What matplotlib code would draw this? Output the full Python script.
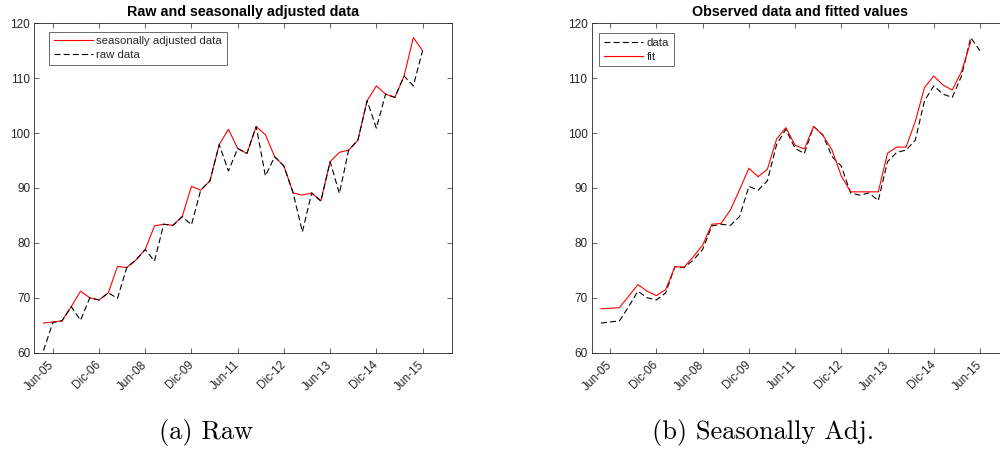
import matplotlib
matplotlib.use("Agg")
import matplotlib.pyplot as plt
import matplotlib.transforms as mtransforms
import numpy as np

# ---- data (quarterly index, Jun-05 .. ) ----
raw_data = [60.4, 65.5, 65.8, 68.4, 65.9, 70.0, 69.6, 70.9, 69.9, 75.5,
            76.9, 78.8, 76.7, 83.4, 83.2, 84.8, 83.3, 89.6, 91.3, 97.9,
            93.1, 97.2, 96.3, 101.2, 92.2, 95.7, 94.0, 89.1, 82.0, 89.1,
            87.6, 94.8, 89.0, 96.9, 98.7, 105.9, 100.9, 107.1, 106.5, 110.4,
            108.6, 115.0]
sa_data = [65.4, 65.6, 65.8, 68.4, 71.2, 70.0, 69.6, 70.9, 75.7, 75.5,
           76.9, 78.8, 83.1, 83.4, 83.2, 84.8, 90.3, 89.6, 91.3, 97.9,
           100.7, 97.2, 96.3, 101.2, 99.7, 95.7, 94.0, 89.1, 88.7, 89.1,
           87.7, 94.8, 96.5, 96.9, 98.7, 105.9, 108.6, 107.1, 106.5, 110.4,
           117.4, 115.0]
fit_values = [68.0, 68.1, 68.2, 70.3, 72.4, 71.2, 70.4, 71.5, 75.65, 75.6,
              77.5, 79.6, 83.4, 83.55, 86.0, 89.7, 93.6, 92.05, 93.4, 98.9,
              101.0, 97.8, 97.1, 101.2, 99.65, 96.9, 92.2, 89.3, 89.3, 89.3,
              89.3, 96.35, 97.45, 97.45, 102.1, 108.3, 110.4, 108.75, 107.85, 111.2,
              116.65]
tick_labels = ["Jun-05", "Dic-06", "Jun-08", "Dic-09", "Jun-11",
               "Dic-12", "Jun-13", "Dic-14", "Jun-15"]
tick_index = [1, 6, 11, 16, 21, 26, 31, 36, 41]
y_ticks = [60, 70, 80, 90, 100, 110, 120]

plt.rcParams['font.family'] = ['Liberation Sans', 'DejaVu Sans']
plt.rcParams['lines.scale_dashes'] = False

W, H = 1000, 450
fig = plt.figure(figsize=(W / 100, H / 100), dpi=100)

axcol = '#262626'

def px_rect(x0, y0, x1, y1):
    return [x0 / W, 1 - y1 / H, (x1 - x0) / W, (y1 - y0) / H]

axL = fig.add_axes(px_rect(34.3, 23.3, 451.7, 352.7))
axR = fig.add_axes(px_rect(591.7, 23.3, 1009.1, 352.7))

xs = np.arange(len(sa_data))
xf = np.arange(len(fit_values))

dash = (4.3, 2.3)
axL.plot(xs, sa_data, color='red', lw=0.8, label='seasonally adjusted data')
axL.plot(xs, raw_data, color='black', lw=0.8, dashes=dash, label='raw data')

axR.plot(xs, sa_data, color='black', lw=0.8, dashes=dash, label='data')
axR.plot(xf, fit_values, color='red', lw=0.8, label='fit')

offset = mtransforms.ScaledTranslation(0.11, 0.02, fig.dpi_scale_trans)
for ax, title, leg_xy in [(axL, 'Raw and seasonally adjusted data', (49, 31.7)),
                          (axR, 'Observed data and fitted values', (599, 33.3))]:
    ax.set_xlim(-1, 44.15)
    ax.set_ylim(60, 120)
    ax.set_yticks(y_ticks)
    ax.set_xticks(tick_index)
    ax.set_xticklabels(tick_labels, rotation=45, ha='right', va='center',
                       rotation_mode='anchor')
    for lab in ax.get_xticklabels():
        lab.set_transform(lab.get_transform() + offset)
    ax.tick_params(direction='in', length=3.6, width=0.5, colors=axcol,
                   labelsize=8.5, top=True, right=True)
    ax.tick_params(axis='x', pad=7.5)
    ax.tick_params(axis='y', pad=3)
    for sp in ax.spines.values():
        sp.set_color(axcol)
        sp.set_linewidth(0.6)
    ax.set_title(title, fontsize=10.3, fontweight='bold', pad=5, color='black')
    leg = ax.legend(loc='upper left',
                    bbox_to_anchor=(leg_xy[0] / W, 1 - leg_xy[1] / H),
                    bbox_transform=fig.transFigure,
                    fontsize=8.2, frameon=True, fancybox=False, borderaxespad=0,
                    handlelength=3.4, handletextpad=0.35, labelspacing=0.3,
                    borderpad=0.42)
    fr = leg.get_frame()
    fr.set_edgecolor(axcol)
    fr.set_linewidth(0.6)
    for t in leg.get_texts():
        t.set_color(axcol)

fig.text(206 / W, 1 - 433 / H, '(a) Raw', fontfamily='cmr10', fontsize=19,
         ha='center', va='center')
fig.text(763 / W, 1 - 433 / H, '(b) Seasonally Adj.', fontfamily='cmr10',
         fontsize=19, ha='center', va='center')

fig.savefig('out.png', dpi=100)
